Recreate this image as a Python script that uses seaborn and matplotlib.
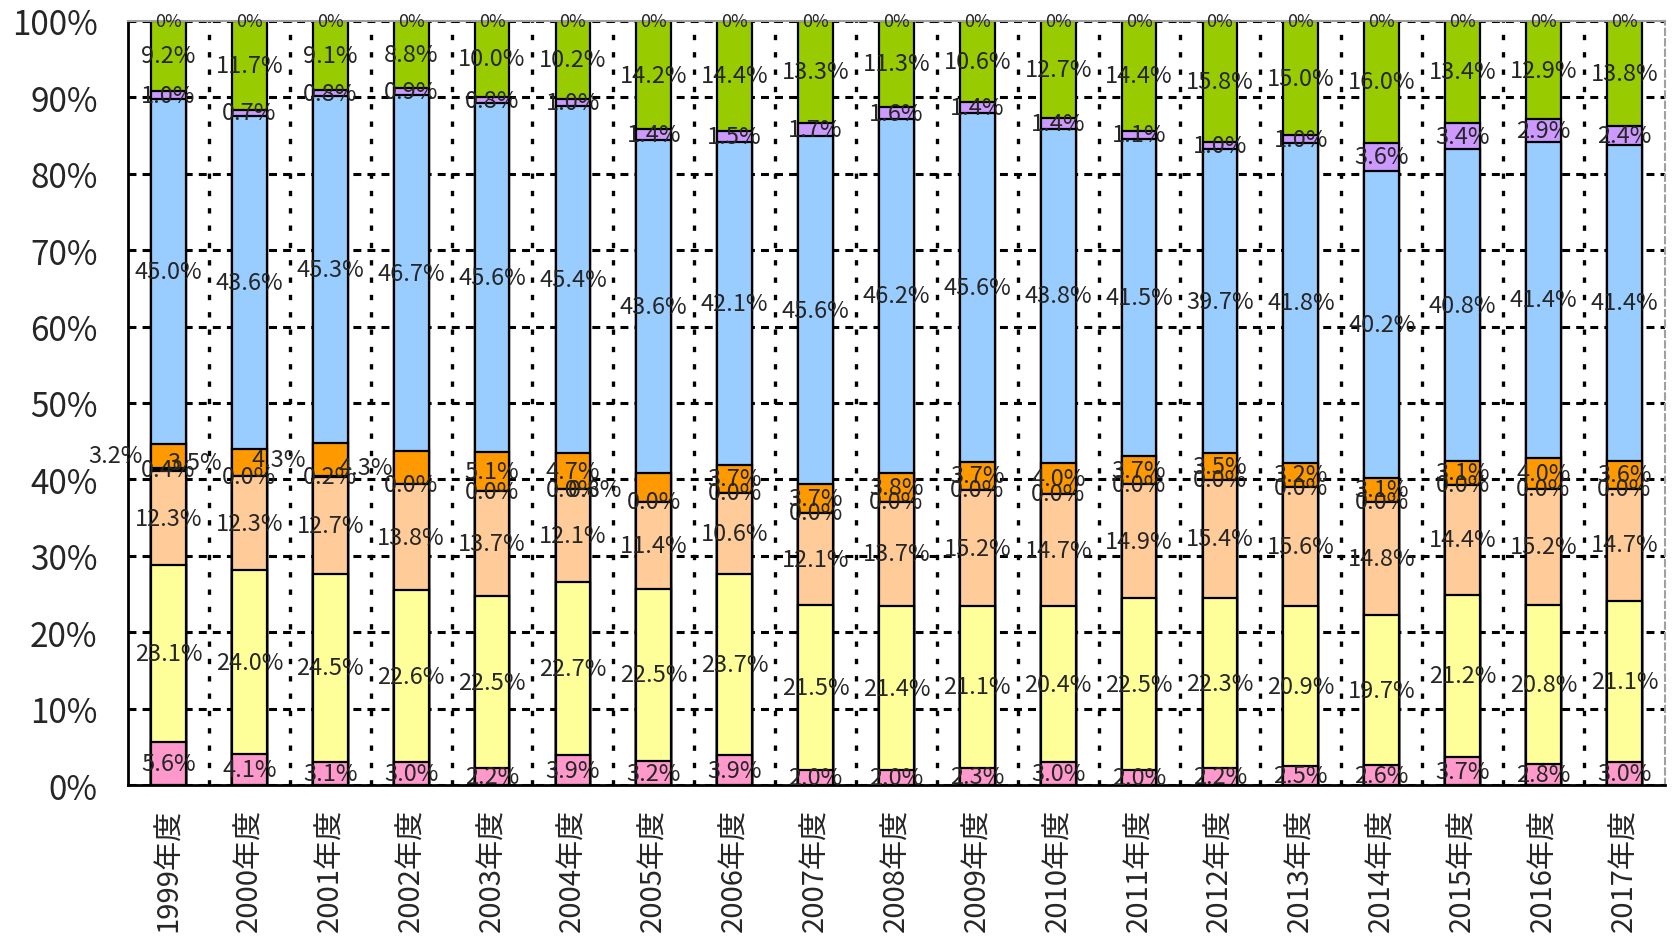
import numpy as np
import pandas as pd
import matplotlib
matplotlib.use('Agg')
import matplotlib.pyplot as plt
import seaborn as sns

# categories
years = ['1999年度', '2000年度', '2001年度', '2002年度', '2003年度', '2004年度',
         '2005年度', '2006年度', '2007年度', '2008年度', '2009年度', '2010年度',
         '2011年度', '2012年度', '2013年度', '2014年度', '2015年度', '2016年度',
         '2017年度']

# series values (%), bottom to top
pink = [5.6, 4.1, 3.1, 3.0, 2.2, 3.9, 3.2, 3.9, 2.0, 2.0, 2.3, 3.0, 2.0, 2.2, 2.5, 2.6, 3.7, 2.8, 3.0]
yellow = [23.1, 24.0, 24.5, 22.6, 22.5, 22.7, 22.5, 23.7, 21.5, 21.4, 21.1, 20.4, 22.5, 22.3, 20.9, 19.7, 21.2, 20.8, 21.1]
peach = [12.3, 12.3, 12.7, 13.8, 13.7, 12.1, 11.4, 10.6, 12.1, 13.7, 15.2, 14.7, 14.9, 15.4, 15.6, 14.8, 14.4, 15.2, 14.7]
dark = [0.4, 0.0, 0.2, 0.0, 0.0, 0.0, 0.0, 0.0, 0.0, 0.0, 0.0, 0.0, 0.0, 0.0, 0.0, 0.0, 0.0, 0.0, 0.0]
orange = [3.2, 3.5, 4.3, 4.3, 5.1, 4.7, 3.7, 3.7, 3.7, 3.8, 3.7, 4.0, 3.7, 3.5, 3.2, 3.1, 3.1, 4.0, 3.6]
blue = [45.0, 43.6, 45.3, 46.7, 45.6, 45.4, 43.6, 42.1, 45.6, 46.2, 45.6, 43.8, 41.5, 39.7, 41.8, 40.2, 40.8, 41.4, 41.4]
purple = [1.0, 0.7, 0.8, 0.9, 0.8, 1.0, 1.4, 1.5, 1.7, 1.6, 1.4, 1.4, 1.1, 1.0, 1.0, 3.6, 3.4, 2.9, 2.4]
green = [9.2, 11.7, 9.1, 8.8, 10.0, 10.2, 14.2, 14.4, 13.3, 11.3, 10.6, 12.7, 14.4, 15.8, 15.0, 16.0, 13.4, 12.9, 13.8]
top = [0, 0, 0, 0, 0, 0, 0, 0, 0, 0, 0, 0, 0, 0, 0, 0, 0, 0, 0]

series = [pink, yellow, peach, dark, orange, blue, purple, green]
colors = ['#FF99CC', '#FFFF99', '#FFCC99', '#000000', '#FF9900', '#99CCFF', '#CC99FF', '#99CC00']

# label placement tweaks (the old orange labels sit left of their bars)
orange_dx = [-0.66, -0.68, -0.64, -0.56] + [0] * 15
orange_show = [True] * 6 + [False] + [True] * 12
extra_year, extra_text = '2004年度', '0.8%'

sns.set_style('white')
plt.rcParams['font.family'] = ['Noto Sans CJK JP', 'DejaVu Sans']

vals = np.array(series, dtype=float)
totals = vals.sum(axis=0)
norm = vals / totals * 100          # 100% stacked
cum = np.cumsum(norm, axis=0)

fig = plt.figure(figsize=(16.74, 9.45), dpi=100)
ax = fig.add_axes([0.0765, 0.168, 0.918, 0.809])

# draw cumulative bars from the top layer down so they stack
for k in range(len(series) - 1, -1, -1):
    sns.barplot(x=years, y=cum[k], color=colors[k], width=0.43, saturation=1,
                edgecolor='black', linewidth=1.6, errorbar=None, ax=ax, zorder=2)

# segment labels
for k in range(len(series)):
    for i in range(len(years)):
        dx = 0
        if k == 4:
            if not orange_show[i]:
                continue
            dx = orange_dx[i]
        y = cum[k, i] - norm[k, i] / 2
        ax.text(i + dx, y, f'{vals[k, i]:.1f}%', ha='center', va='center',
                fontsize=17, zorder=5)

i = years.index(extra_year)
ax.text(i + 0.28, cum[3, i] - norm[3, i] / 2, extra_text, ha='center', va='center',
        fontsize=17, zorder=5)

for i in range(len(years)):
    ax.text(i, 100 + top[i], f'{top[i]}%', ha='center', va='center', fontsize=13, zorder=5)

ax.set_xlim(-0.5, len(years) - 0.5)
ax.set_ylim(0, 100)
ax.set_yticks(range(0, 101, 10))
ax.set_yticklabels([f'{t}%' for t in range(0, 101, 10)], fontsize=24)
ax.set_xticks(range(len(years)))
ax.set_xticklabels(years, rotation=90, fontsize=21, va='top')
ax.set_xlabel('')
ax.set_ylabel('')
ax.tick_params(axis='y', length=0, pad=22)
ax.tick_params(axis='x', length=0, pad=16)

ax.set_axisbelow(True)
ax.yaxis.grid(True, color='black', linestyle=(0, (2.6, 2.0)), linewidth=2.2)
ax.set_xticks(np.arange(0.5, len(years) - 1, 1), minor=True)
ax.xaxis.grid(True, which='minor', color='black', linestyle=(0, (1.6, 3.6)), linewidth=2.4)
ax.xaxis.grid(False, which='major')

for s in ['left', 'bottom']:
    ax.spines[s].set_color('black')
    ax.spines[s].set_linewidth(2)
ax.spines['top'].set_color('#A0A0A0')
ax.spines['top'].set_linewidth(1.5)
ax.spines['right'].set_color('#A0A0A0')
ax.spines['right'].set_linewidth(1.5)
ax.spines['right'].set_linestyle((0, (3, 2)))

fig.savefig('out.png', dpi=100)
